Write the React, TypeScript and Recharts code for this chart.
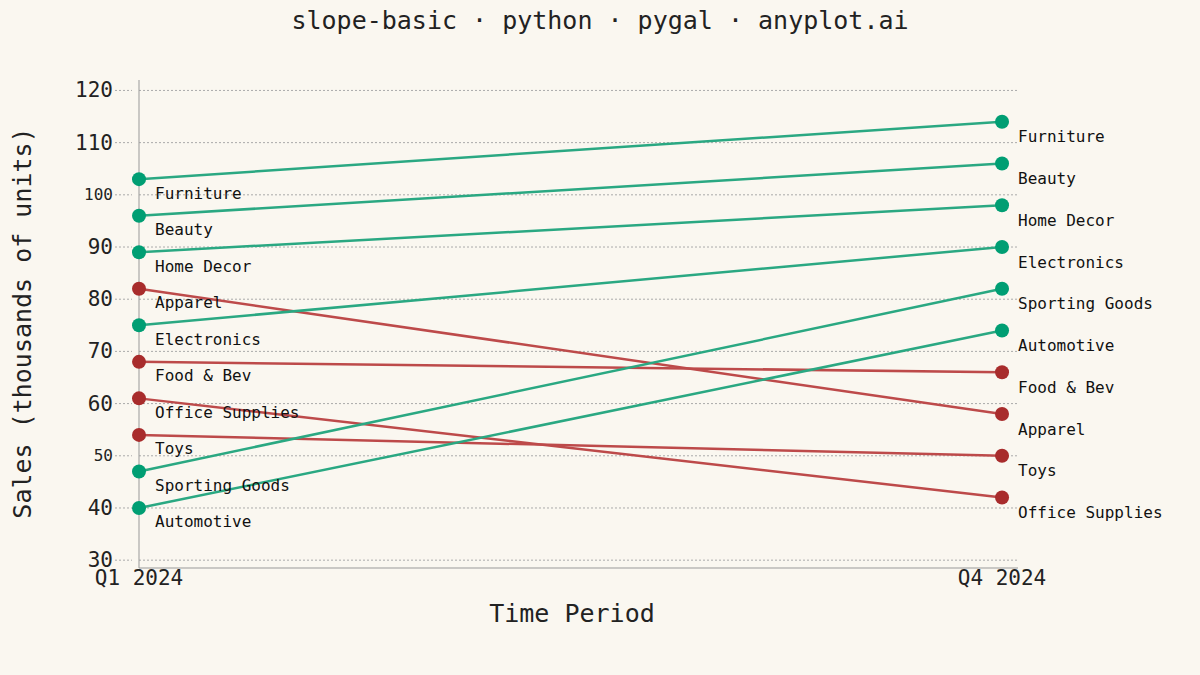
import { LineChart, Line, XAxis, YAxis, ReferenceLine, LabelList, Label } from 'recharts';

const categories = [
  'Furniture', 'Beauty', 'Home Decor', 'Apparel', 'Electronics',
  'Food & Bev', 'Office Supplies', 'Toys', 'Sporting Goods', 'Automotive',
];
const q1Sales = [103, 96, 89, 82, 75, 68, 61, 54, 47, 40];
const q4Sales = [114, 106, 98, 58, 90, 66, 42, 50, 82, 74];
const periods = ['Q1 2024', 'Q4 2024'];
const yTicks = [30, 40, 50, 60, 70, 80, 90, 100, 110, 120];
const smallTicks = [50, 100];

const GREEN_DOT = '#009E73';
const GREEN_LINE = '#2aa882';
const RED_DOT = '#A82C2C';
const RED_LINE = '#bd4a4a';
const GRID = '#aaa';
const FONT = '"DejaVu Sans Mono", monospace';

const data = periods.map((_, p) => {
  const row: Record<string, number> = { t: p };
  categories.forEach((c, i) => {
    row[c] = p === 0 ? q1Sales[i] : q4Sales[i];
  });
  return row;
});

const YTick = (props: any) => {
  const { x, y, payload } = props;
  const small = smallTicks.includes(payload.value);
  return (
    <g>
      <line x1={x - 16} x2={x + 1} y1={y} y2={y} stroke={GRID} strokeDasharray="2 2" />
      <text
        x={x - 18}
        y={y}
        textAnchor="end"
        dominantBaseline="central"
        fontFamily={FONT}
        fontSize={small ? 16 : 21}
        fill="#222"
      >
        {payload.value}
      </text>
    </g>
  );
};

const XTick = (props: any) => {
  const { x, y, payload } = props;
  return (
    <text x={x} y={y + 2} textAnchor="middle" dominantBaseline="central" fontFamily={FONT} fontSize={21} fill="#222">
      {periods[payload.value]}
    </text>
  );
};

const makeLabel = (name: string) => (props: any) => {
  const { x, y, index } = props;
  return (
    <text
      x={x + 16}
      y={y + (index === 0 ? 14 : 15)}
      dominantBaseline="central"
      fontFamily={FONT}
      fontSize={16}
      fill="#111"
    >
      {name}
    </text>
  );
};

export default function App() {
  return (
    <div style={{ position: 'absolute', left: 0, top: 0, width: 1200, height: 675, background: '#FAF7F0' }}>
      <div
        style={{
          position: 'absolute',
          top: 6,
          width: 1200,
          textAlign: 'center',
          fontFamily: FONT,
          fontSize: 25,
          color: '#222',
        }}
      >
        slope-basic · python · pygal · anyplot.ai
      </div>
      <LineChart width={1200} height={675} data={data} margin={{ top: 80, right: 182, bottom: 77, left: 39 }}>
        <XAxis
          dataKey="t"
          type="number"
          domain={[0, 1.0185]}
          ticks={[0, 1]}
          height={30}
          axisLine={{ stroke: '#999' }}
          tickLine={false}
          tick={<XTick />}
        >
          <Label
            content={() => (
              <text x={572} y={613} textAnchor="middle" dominantBaseline="central" fontFamily={FONT} fontSize={25} fill="#222">
                Time Period
              </text>
            )}
          />
        </XAxis>
        <YAxis
          type="number"
          domain={[28.5, 122]}
          ticks={yTicks}
          width={100}
          axisLine={{ stroke: '#999' }}
          tickLine={false}
          tick={<YTick />}
        >
          <Label
            content={() => (
              <text
                x={22}
                y={323}
                textAnchor="middle"
                dominantBaseline="central"
                transform="rotate(-90 22 323)"
                fontFamily={FONT}
                fontSize={25}
                fill="#222"
              >
                Sales (thousands of units)
              </text>
            )}
          />
        </YAxis>
        {yTicks.map((v) => (
          <ReferenceLine key={v} y={v} stroke={GRID} strokeDasharray="2 2" />
        ))}
        {categories.map((c, i) => {
          const up = q4Sales[i] >= q1Sales[i];
          return (
            <Line
              key={c}
              dataKey={c}
              type="linear"
              stroke={up ? GREEN_LINE : RED_LINE}
              strokeWidth={2.5}
              dot={{ r: 7, fill: up ? GREEN_DOT : RED_DOT, stroke: 'none' }}
              activeDot={false}
              isAnimationActive={false}
            >
              <LabelList dataKey={c} content={makeLabel(c)} />
            </Line>
          );
        })}
      </LineChart>
    </div>
  );
}
